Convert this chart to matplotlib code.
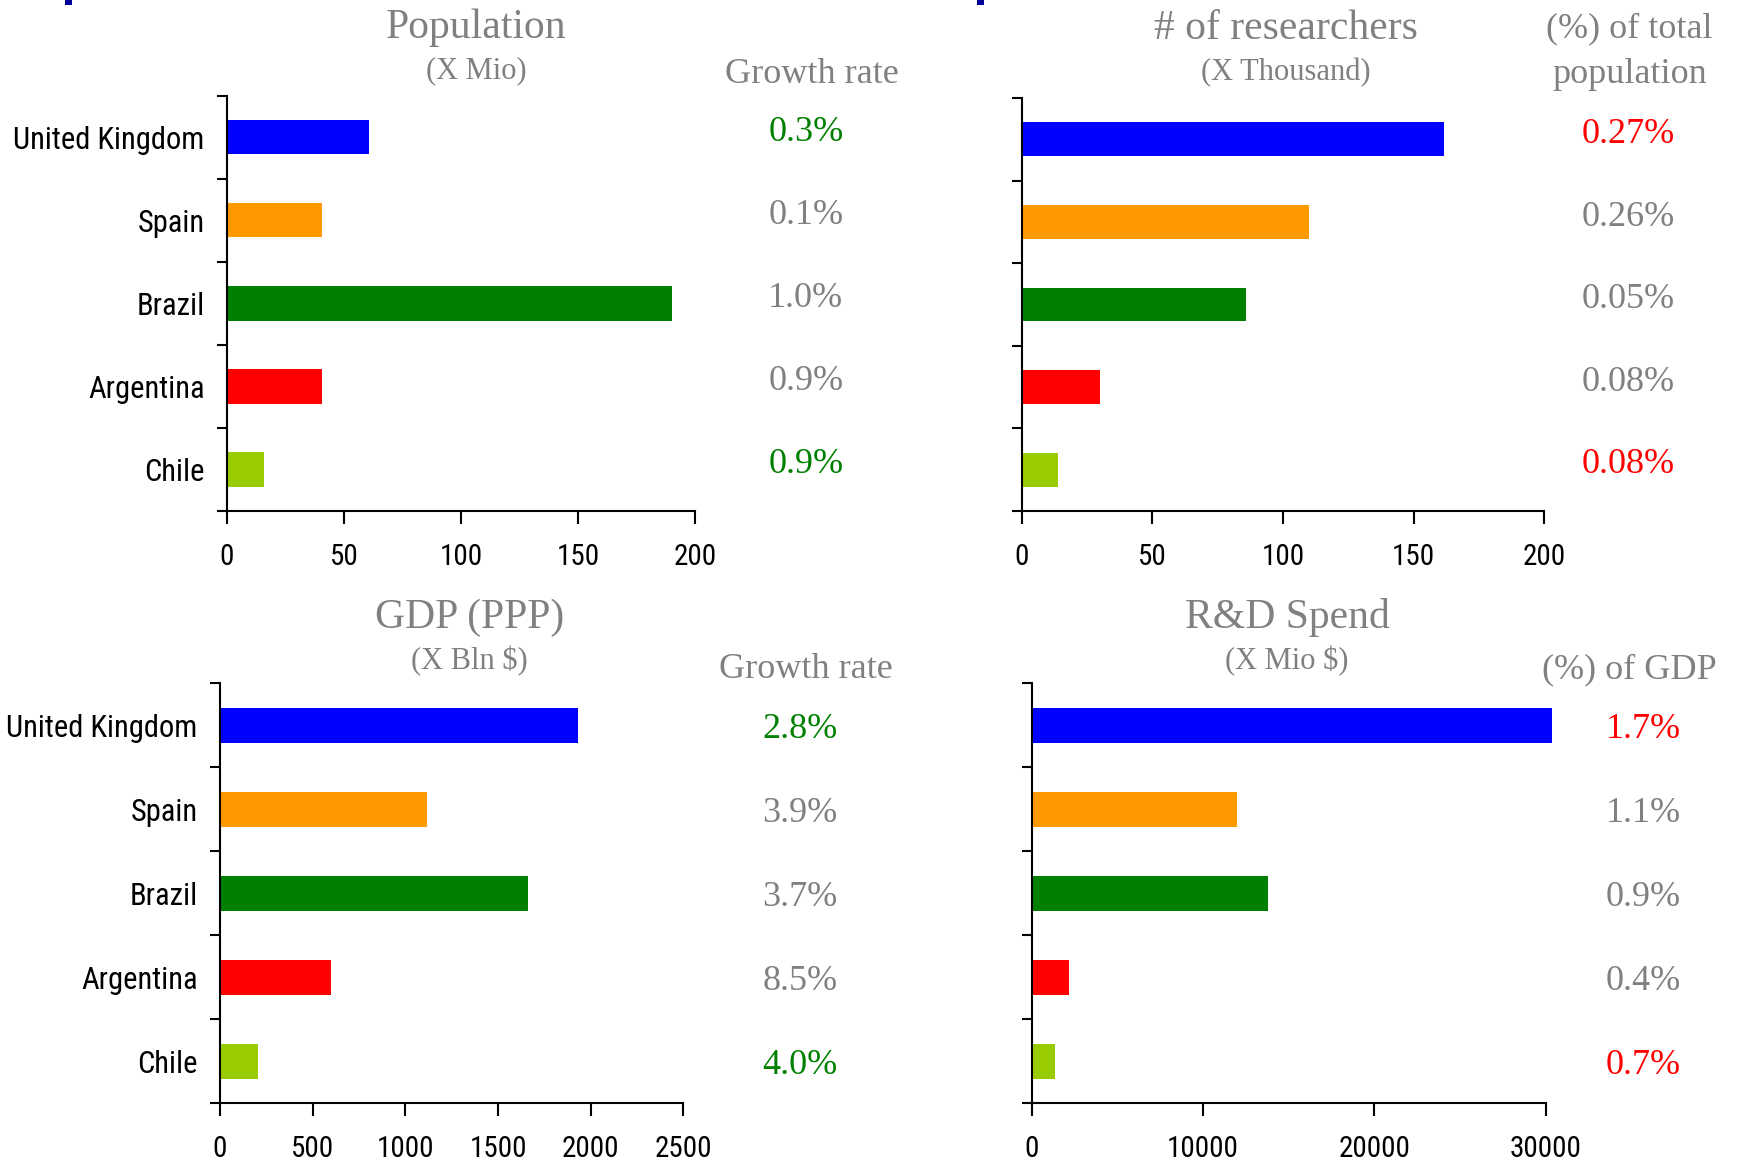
#!/usr/bin/env python3
"""
Country comparison: population, researchers, GDP and R&D spend
Four horizontal bar panels with a side column of rates
"""

import matplotlib
matplotlib.use('Agg')
import matplotlib.pyplot as plt
import matplotlib.patches as mpatches
from matplotlib.ticker import FixedLocator

# ===== DATA =====
countries = ['United Kingdom', 'Spain', 'Brazil', 'Argentina', 'Chile']
bar_colors = ['#0000FF', '#FF9900', '#008000', '#FF0000', '#99CC00']

population = [60.5, 40.5, 190, 40.5, 16]           # X Mio
pop_growth = ['0.3%', '0.1%', '1.0%', '0.9%', '0.9%']
pop_growth_colors = ['green', 'gray', 'gray', 'gray', 'green']

researchers = [161.5, 110, 86, 30, 14]             # X Thousand
res_share = ['0.27%', '0.26%', '0.05%', '0.08%', '0.08%']
res_share_colors = ['red', 'gray', 'gray', 'gray', 'red']

gdp = [1930, 1115, 1660, 600, 205]                 # X Bln $
gdp_growth = ['2.8%', '3.9%', '3.7%', '8.5%', '4.0%']
gdp_growth_colors = ['green', 'gray', 'gray', 'gray', 'green']

rd_spend = [30400, 11950, 13800, 2150, 1350]       # X Mio $
rd_share = ['1.7%', '1.1%', '0.9%', '0.4%', '0.7%']
rd_share_colors = ['red', 'gray', 'gray', 'gray', 'red']

TEXT_COLORS = {'green': '#008000', 'gray': '#808080', 'red': '#FF0000'}
SERIF = ['Liberation Serif', 'DejaVu Serif']
NARROW = ['Roboto Condensed', 'Liberation Sans Narrow', 'Liberation Sans', 'DejaVu Sans']


def draw_panel(fig, rect, values, xmax, xticks, title, unit, side_header,
               side_values, side_colors, show_labels, title_x, title_y, unit_y,
               header_x, header_y, values_x, value_dy):
    ax = fig.add_axes(rect)
    y = list(range(len(countries)))

    ax.barh(y, values, height=0.41, color=bar_colors, clip_on=False, zorder=2)

    ax.set_xlim(0, xmax)
    ax.set_ylim(len(countries) - 0.5, -0.5)

    # Spines: left and bottom only
    for side in ['top', 'right']:
        ax.spines[side].set_visible(False)
    for side in ['left', 'bottom']:
        ax.spines[side].set_linewidth(1.5)
        ax.spines[side].set_color('black')

    # Category labels on majors, boundary ticks on minors
    ax.set_yticks(y)
    if show_labels:
        ax.set_yticklabels(countries, family=NARROW, fontsize=22)
    else:
        ax.set_yticklabels([])
    ax.yaxis.set_minor_locator(FixedLocator([i - 0.5 for i in range(len(countries) + 1)]))
    ax.tick_params(axis='y', which='major', length=0, pad=16)
    ax.tick_params(axis='y', which='minor', length=7, width=1.5, direction='out')

    ax.set_xticks(xticks)
    ax.set_xticklabels([str(t) for t in xticks], family=NARROW, fontsize=21)
    ax.tick_params(axis='x', which='major', length=9, width=1.5, direction='out', pad=14)

    # Titles
    ax.text(title_x, title_y, title, transform=ax.transAxes, ha='center', va='center',
            fontsize=30, color='#808080', family=SERIF)
    ax.text(title_x, unit_y, unit, transform=ax.transAxes, ha='center', va='center',
            fontsize=22, color='#808080', family=SERIF)

    # Side column
    for i, line in enumerate(side_header):
        ax.text(header_x, header_y[i], line, transform=ax.transAxes, ha='center',
                va='center', fontsize=26, color='#808080', family=SERIF)

    for i, (txt, col) in enumerate(zip(side_values, side_colors)):
        ax.annotate(txt, xy=(values_x, i), xycoords=('axes fraction', 'data'),
                    xytext=(0, value_dy), textcoords='offset points',
                    ha='center', va='center', fontsize=26,
                    color=TEXT_COLORS[col], family=SERIF, annotation_clip=False)
    return ax


fig = plt.figure(figsize=(17.51, 11.63), dpi=100, facecolor='white')

# ===== TOP LEFT: Population =====
draw_panel(fig, [0.1296, 0.5606, 0.2673, 0.3569], population, 200,
           [0, 50, 100, 150, 200], 'Population', '(X Mio)',
           ['Growth rate'], pop_growth, pop_growth_colors, True,
           title_x=0.532, title_y=1.165, unit_y=1.060,
           header_x=1.25, header_y=[1.052], values_x=1.237, value_dy=3.5)

# ===== TOP RIGHT: Researchers =====
draw_panel(fig, [0.5835, 0.5606, 0.2985, 0.3551], researchers, 200,
           [0, 50, 100, 150, 200], '# of researchers', '(X Thousand)',
           ['(%) of total', 'population'], res_share, res_share_colors, False,
           title_x=0.506, title_y=1.167, unit_y=1.062,
           header_x=1.163, header_y=[1.167, 1.057], values_x=1.161, value_dy=3.5)

# ===== BOTTOM LEFT: GDP =====
draw_panel(fig, [0.1256, 0.0513, 0.2647, 0.3611], gdp, 2500,
           [0, 500, 1000, 1500, 2000, 2500], 'GDP (PPP)', '(X Bln $)',
           ['Growth rate'], gdp_growth, gdp_growth_colors, True,
           title_x=0.538, title_y=1.156, unit_y=1.053,
           header_x=1.264, header_y=[1.033], values_x=1.252, value_dy=-3)

# ===== BOTTOM RIGHT: R&D spend =====
draw_panel(fig, [0.5893, 0.0513, 0.2934, 0.3611], rd_spend, 30000,
           [0, 10000, 20000, 30000], 'R&D Spend', '(X Mio $)',
           ['(%) of GDP'], rd_share, rd_share_colors, False,
           title_x=0.497, title_y=1.156, unit_y=1.053,
           header_x=1.164, header_y=[1.033], values_x=1.190, value_dy=-3)

# Cut-off fragments at the top edge
for x0 in [65, 977]:
    fig.add_artist(mpatches.Rectangle((x0 / 1751, 1 - 5 / 1163), 7 / 1751, 5 / 1163,
                                      transform=fig.transFigure, color='#000099',
                                      linewidth=0))

plt.savefig('out.png', dpi=100, facecolor='white')
plt.close()
